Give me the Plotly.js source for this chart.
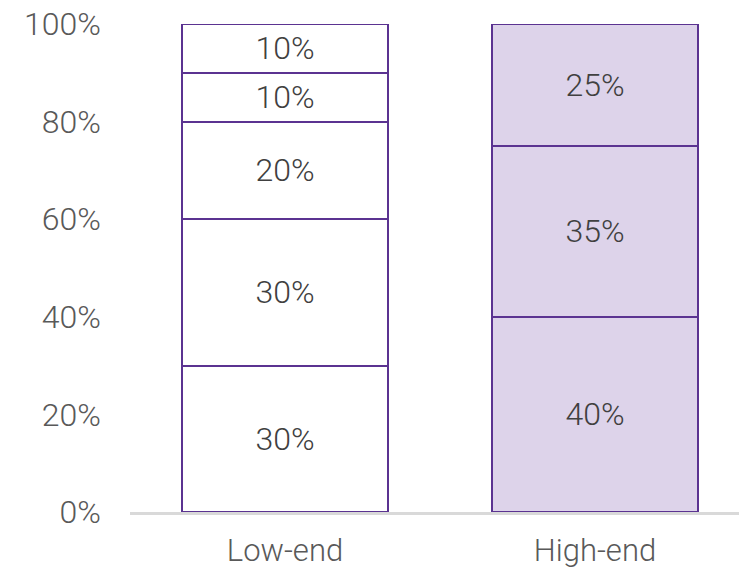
<!DOCTYPE html>
<html><head><meta charset="utf-8">
<script src="https://cdn.plot.ly/plotly-3.0.1.min.js"></script>
<style>html,body{margin:0;padding:0;background:#fff}#c{width:739px;height:570px}</style>
</head><body><div id="c"></div>
<script>
const categories = ['Low-end', 'High-end'];
const seg1 = [30, 40];
const seg2 = [30, 35];
const seg3 = [20, 25];
const seg4 = [10, null];
const seg5 = [10, null];
const segments = [seg1, seg2, seg3, seg4, seg5];
const fills = ['#FFFFFF', '#DDD3EA'];
const yTickVals = [0, 20, 40, 60, 80, 100];
const yTickText = ['0%', '20%', '40%', '60%', '80%', '100%'];

const FONT = 'Roboto, Liberation Sans, Arial, sans-serif';
const traces = segments.map(s => ({
  type: 'bar', x: categories, y: s,
  marker: {color: fills, line: {color: '#5B3391', width: 2}},
  text: s.map(v => v == null ? '' : v + '%'),
  texttemplate: '%{text}',
  textposition: 'inside', insidetextanchor: 'middle', constraintext: 'none',
  textfont: {family: FONT, size: 32, color: '#404040', weight: 300},
  hoverinfo: 'none', width: 0.665
}));

Plotly.newPlot('c', traces, {
  width: 739, height: 570, showlegend: false, barmode: 'stack',
  margin: {l: 130, r: 0, t: 24, b: 58},
  paper_bgcolor: '#fff', plot_bgcolor: '#fff',
  font: {family: FONT, color: '#595959', size: 32},
  xaxis: {range: [-0.5, 1.4645], showline: true, linecolor: '#D9D9D9', linewidth: 3,
          ticks: '', showgrid: false, zeroline: false, ticklabelstandoff: 9,
          tickfont: {family: FONT, size: 31, color: '#595959', weight: 300}},
  yaxis: {range: [0, 100], tickvals: yTickVals, ticktext: yTickText, showgrid: false,
          zeroline: false, showline: false, ticks: '', ticklabelstandoff: 28,
          tickfont: {family: FONT, size: 32, color: '#595959', weight: 300}}
}, {staticPlot: true});
</script></body></html>
